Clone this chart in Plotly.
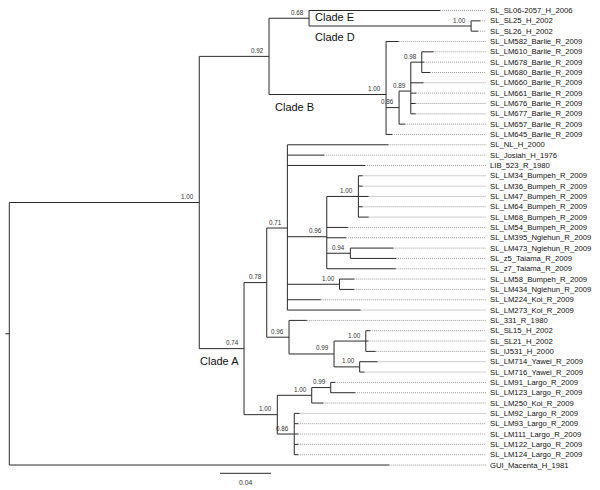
import plotly.graph_objects as go

# ---------------- data ----------------
# Tips, top to bottom
tip_names = [
    "SL_SL06-2057_H_2006", "SL_SL25_H_2002", "SL_SL26_H_2002",
    "SL_LM582_Barlie_R_2009", "SL_LM610_Barlie_R_2009", "SL_LM678_Barlie_R_2009",
    "SL_LM680_Barlie_R_2009", "SL_LM660_Barlie_R_2009", "SL_LM661_Barlie_R_2009",
    "SL_LM676_Barlie_R_2009", "SL_LM677_Barlie_R_2009", "SL_LM657_Barlie_R_2009",
    "SL_LM645_Barlie_R_2009", "SL_NL_H_2000", "SL_Josiah_H_1976", "LIB_523_R_1980",
    "SL_LM34_Bumpeh_R_2009", "SL_LM36_Bumpeh_R_2009", "SL_LM47_Bumpeh_R_2009",
    "SL_LM64_Bumpeh_R_2009", "SL_LM68_Bumpeh_R_2009", "SL_LM54_Bumpeh_R_2009",
    "SL_LM395_Ngiehun_R_2009", "SL_LM473_Ngiehun_R_2009", "SL_z5_Taiama_R_2009",
    "SL_z7_Taiama_R_2009", "SL_LM58_Bumpeh_R_2009", "SL_LM434_Ngiehun_R_2009",
    "SL_LM224_Koi_R_2009", "SL_LM273_Koi_R_2009", "SL_331_R_1980",
    "SL_SL15_H_2002", "SL_SL21_H_2002", "SL_IJ531_H_2000",
    "SL_LM714_Yawei_R_2009", "SL_LM716_Yawei_R_2009", "SL_LM91_Largo_R_2009",
    "SL_LM123_Largo_R_2009", "SL_LM250_Koi_R_2009", "SL_LM92_Largo_R_2009",
    "SL_LM93_Largo_R_2009", "SL_LM111_Largo_R_2009", "SL_LM122_Largo_R_2009",
    "SL_LM124_Largo_R_2009", "GUI_Macenta_H_1981",
]
tip_parents = [
    "n068", "nSL25", "nSL25",
    "nB", "n098", "n098", "n098", "n089", "n089", "n089", "n089", "n086", "nB",
    "n071", "n071", "n071",
    "nBump", "nBump", "nBump", "nBump", "nBump", "n096a", "n096a", "n094", "n094",
    "n096a", "nLM58", "nLM58", "n071", "n071", "n096b",
    "nSL15", "nSL15", "nSL15", "nLM714", "nLM714", "n099b",
    "n099b", "nL1", "n086b", "n086b", "n086b", "n086b", "n086b", "root",
]
tip_branch_lengths = [
    0.1027, 0.0071, 0.0055,
    0.0099, 0.0091, 0.0018, 0.0065, 0.0099, 0.0042, 0.0038, 0.0038, 0.0047, 0.0047,
    0.0792, 0.0289, 0.0609,
    0.0033, 0.0033, 0.0080, 0.0033, 0.0080, 0.0165, 0.0151, 0.0337, 0.0358,
    0.0541, 0.0116, 0.0116, 0.0262, 0.0574, 0.0139,
    0.0034, 0.0020, 0.0078, 0.0140, 0.0038, 0.0034,
    0.0191, 0.0091, 0.0041, 0.0031, 0.0031, 0.0031, 0.0031, 0.2980,
]

# Internal nodes
node_names = ["root", "n1", "n092", "n068", "nSL25", "nB", "n086", "n089", "n098",
              "n074", "n078", "n071", "n096a", "nBump", "n094", "nLM58", "n096b",
              "n099a", "nSL15", "nLM714", "nLargo", "nL1", "n099b", "n086b"]
node_parents = [None, "root", "n1", "n092", "n068", "n092", "nB", "n086", "n089",
                "n1", "n074", "n078", "n071", "n096a", "n096a", "n071", "n078",
                "n096b", "n099a", "n099a", "n074", "nLargo", "nL1", "nLargo"]
node_branch_lengths = [0.0, 0.1490, 0.0547, 0.0314, 0.1271, 0.0918, 0.0102, 0.0092, 0.0086,
                       0.0351, 0.0178, 0.0162, 0.0309, 0.0248, 0.0185, 0.0409, 0.0175,
                       0.0353, 0.0249, 0.0201, 0.0261, 0.0270, 0.0149, 0.0133]
node_support = ["", "1.00", "0.92", "0.68", "1.00", "1.00", "0.86", "0.89", "0.98",
                "0.74", "0.78", "0.71", "0.96", "1.00", "0.94", "1.00", "0.96",
                "0.99", "1.00", "1.00", "1.00", "1.00", "0.99", "0.86"]

clade_names = ["Clade E", "Clade D", "Clade B", "Clade A"]
scale_bar_length = 0.04

# ---------------- layout of the tree ----------------
parent = {}
blen = {}
for n, p, b in zip(tip_names, tip_parents, tip_branch_lengths):
    parent[n] = p
    blen[n] = b
for n, p, b in zip(node_names, node_parents, node_branch_lengths):
    parent[n] = p
    blen[n] = b

children = {n: [] for n in node_names}
for n in tip_names + node_names:
    if parent[n] is not None:
        children[parent[n]].append(n)

depth = {}
def get_depth(n):
    if n not in depth:
        depth[n] = 0.0 if parent[n] is None else get_depth(parent[n]) + blen[n]
    return depth[n]

ypos = {n: float(i) for i, n in enumerate(tip_names)}
def get_y(n):
    if n not in ypos:
        ys = [get_y(c) for c in children[n]]
        ypos[n] = sum(ys) / len(ys)
    return ypos[n]

for n in tip_names + node_names:
    get_depth(n)
    get_y(n)

# pixel mapping (margins 0): x_px = X0 + PX_PER_UNIT*d ; y_px = Y0 + PX_PER_TIP*i
W, H = 600, 490
X0, PX_PER_UNIT = 9.3, 1275.0
Y0, PX_PER_TIP = 10.5, 10.33
def dx(px):
    return px / PX_PER_UNIT
xr = [-X0 / PX_PER_UNIT, (W - X0) / PX_PER_UNIT]
yr = [(H - Y0) / PX_PER_TIP, -Y0 / PX_PER_TIP]

# ---------------- traces ----------------
bx, by = [], []
for n in tip_names + node_names:
    p = parent[n]
    if p is not None:
        bx += [depth[p], depth[n], None]
        by += [ypos[n], ypos[n], None]
for n in node_names:
    ys = [ypos[c] for c in children[n]]
    bx += [depth[n], depth[n], None]
    by += [min(ys), max(ys), None]
# root stub
bx += [depth["root"] - dx(4), depth["root"], None]
by += [ypos["root"], ypos["root"], None]

dot_end = xr[0] + dx(486)
label_x = xr[0] + dx(488)
tx, ty = [], []
for n in tip_names:
    tx += [depth[n], dot_end, None]
    ty += [ypos[n], ypos[n], None]

fig = go.Figure()
fig.add_trace(go.Scatter(x=tx, y=ty, mode="lines",
                         line=dict(color="#9a9a9a", width=1, dash="1px,1px"),
                         hoverinfo="skip", showlegend=False))
fig.add_trace(go.Scatter(x=bx, y=by, mode="lines",
                         line=dict(color="#2a2a2a", width=1),
                         hoverinfo="skip", showlegend=False))

FONT = "Liberation Sans, Arial, Helvetica, sans-serif"
ann = []
for n in tip_names:
    ann.append(dict(x=label_x, y=ypos[n], text=n, xanchor="left", yanchor="middle",
                    showarrow=False, font=dict(size=7.7, color="#111111", family=FONT)))
for n, s in zip(node_names, node_support):
    if s:
        ann.append(dict(x=depth[n], y=ypos[n], text=s, xanchor="right", yanchor="middle",
                        xshift=-3, yshift=6, showarrow=False,
                        font=dict(size=6.3, color="#333333", family=FONT)))

# clade labels placed relative to their nodes
ann.append(dict(x=depth["n068"], y=ypos["n068"], text=clade_names[0], xanchor="left",
                yanchor="middle", xshift=4, yshift=1, showarrow=False,
                font=dict(size=11, color="#111111", family=FONT)))
ann.append(dict(x=depth["n068"], y=ypos["n068"], text=clade_names[1], xanchor="left",
                yanchor="middle", xshift=4, yshift=-19, showarrow=False,
                font=dict(size=11, color="#111111", family=FONT)))
ann.append(dict(x=depth["n092"], y=ypos["nB"], text=clade_names[2], xanchor="left",
                yanchor="middle", xshift=4, yshift=-12, showarrow=False,
                font=dict(size=11, color="#111111", family=FONT)))
ann.append(dict(x=depth["n1"], y=ypos["n074"], text=clade_names[3], xanchor="left",
                yanchor="middle", xshift=-1, yshift=-12, showarrow=False,
                font=dict(size=11, color="#111111", family=FONT)))

# scale bar
sb_x0 = xr[0] + dx(220)
sb_y = (473.3 - Y0) / PX_PER_TIP
fig.add_shape(type="line", x0=sb_x0, x1=sb_x0 + scale_bar_length, y0=sb_y, y1=sb_y,
              line=dict(color="#2a2a2a", width=1))
ann.append(dict(x=sb_x0 + scale_bar_length / 2, y=sb_y, text=f"{scale_bar_length:.2f}",
                xanchor="center", yanchor="middle", yshift=-9, showarrow=False,
                font=dict(size=6.8, color="#333333", family=FONT)))

fig.update_layout(
    width=W, height=H,
    margin=dict(l=0, r=0, t=0, b=0),
    paper_bgcolor="white", plot_bgcolor="white",
    xaxis=dict(range=xr, visible=False, fixedrange=True),
    yaxis=dict(range=yr, visible=False, fixedrange=True),
    annotations=ann,
    showlegend=False,
)

fig.write_html("out.html", config={"displayModeBar": False},
               post_script="document.body.style.margin='0';document.body.style.overflow='hidden';")
